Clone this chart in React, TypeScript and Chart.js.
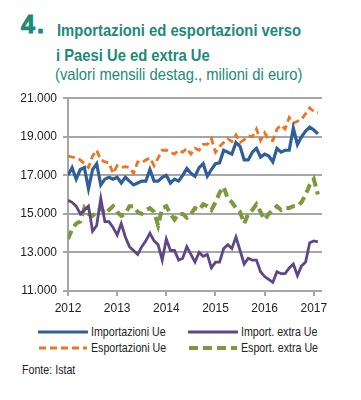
import React, { useEffect, useRef } from "react";
import { Chart, registerables } from "chart.js";

Chart.register(...registerables);

const yearLabels = ["2012", "2013", "2014", "2015", "2016", "2017"];
const yTicks = [11000, 13000, 15000, 17000, 19000, 21000];

const importazioniUe = [
  17000, 17400, 16800, 17300, 17400, 16300, 17300, 17600, 16500, 16800, 16900, 16800,
  16900, 16600, 16900, 16700, 16500, 16600, 16700, 16700, 17300, 16700, 16700, 16900,
  17000, 16600, 16800, 16700, 17000, 17350, 17100, 16950, 17400, 17600, 16950, 17300,
  17600, 17650, 18300, 18200, 18100, 18700, 18500, 17800, 17800, 18200, 18400, 17950,
  18100, 18000, 17700, 18400, 18200, 18300, 18300, 19450, 18600, 19000, 19300, 19500,
  19350, 19150,
];
const esportazioniUe = [
  18000, 17950, 17900, 17800, 17600, 17400, 18000, 18300, 17800, 17700, 17650, 17100,
  17500, 17400, 17450, 17400, 17100, 17700, 17650, 17800, 17900, 17500, 17900, 18300,
  18300, 18200, 18100, 18300, 18200, 18400, 18100, 18400, 18300, 18600, 18600, 18900,
  18200, 18500, 18700, 18900, 18750, 19100, 18700, 18850, 19050, 19000, 19400, 18800,
  19200, 18850, 18800, 19400, 19600, 19400, 20000, 19700, 19800, 19900, 20200, 20500,
  20300, 20250,
];
const importExtraUe = [
  15700, 15600, 15400, 15000, 15200, 15400, 14100, 14400, 15800, 14600, 14600, 14300,
  13900, 14500, 13800, 13300, 13100, 12900, 13300, 13600, 14000, 13600, 13400, 12600,
  13700, 13100, 13100, 12600, 12700, 13300, 12900, 12500, 13000, 12800, 12900, 12200,
  12500, 12500, 13200, 13400, 13200, 13800, 13100, 12400, 12700, 12600, 12600, 12000,
  11750, 11600, 11450, 12000, 11900, 11900, 12200, 12400, 11800, 12300, 12500, 13500,
  13600, 13550,
];
const esportExtraUe = [
  13700, 14200, 14500, 14600, 15300, 15000, 14900, 15100, 15300, 15000, 15200, 15400,
  15100, 14900, 15000, 15400, 15400, 15100, 15000, 15200, 15300, 15100, 14400, 15300,
  15400, 15000, 14700, 15000, 15000, 14800, 15000, 15300, 15200, 15500, 15400, 15200,
  15600, 16100, 16400, 15800, 15600, 15300, 15100, 14500, 15000, 15200, 15500, 15100,
  14700, 15000, 15200, 15400, 15200, 15300, 15300, 15400, 15400, 15600, 16000, 16500,
  16800, 16000,
];

const seriesNames = ["Importazioni Ue", "Esportazioni Ue", "Import. extra Ue", "Esport. extra Ue"];
const colors = ["#2f5f98", "#ef7421", "#5e4789", "#7a9a3b"];
const widths = [3.2, 2.8, 2.8, 4];
const dashes: number[][] = [[], [7, 4], [], [9, 5]];

const FONT = "'Liberation Sans', Arial, sans-serif";
const TEAL = "#1d8a76";

const toPoints = (arr: number[]) => arr.map((v, i) => ({ x: i, y: v }));
const fmt = (v: number) => String(v).replace(/\B(?=(\d{3})+(?!\d))/g, ".");

const narrow = (sx: number): React.CSSProperties => ({
  transform: `scaleX(${sx})`,
  transformOrigin: "0 0",
  whiteSpace: "nowrap",
});

function LegendItem({ idx, left, top }: { idx: number; left: number; top: number }) {
  return (
    <div style={{ position: "absolute", left, top, height: 16, width: 160 }}>
      <svg width={50} height={10} style={{ position: "absolute", left: 0, top: 3 }}>
        <line
          x1={1}
          y1={5}
          x2={49}
          y2={5}
          stroke={colors[idx]}
          strokeWidth={idx === 3 ? 4 : 3.2}
          strokeDasharray={dashes[idx].length ? dashes[idx].join(" ") : undefined}
          strokeLinecap={dashes[idx].length ? "butt" : "round"}
        />
      </svg>
      <div
        style={{
          position: "absolute",
          left: 53,
          top: 0,
          fontFamily: FONT,
          fontSize: 13,
          lineHeight: "16px",
          color: "#222",
          ...narrow(0.82),
        }}
      >
        {seriesNames[idx]}
      </div>
    </div>
  );
}

export default function App() {
  const ref = useRef<HTMLCanvasElement | null>(null);
  useEffect(() => {
    if (!ref.current) return;
    const data = [importazioniUe, esportazioniUe, importExtraUe, esportExtraUe];
    const chart = new Chart(ref.current, {
      type: "line",
      data: {
        datasets: data.map((arr, i) => ({
          label: seriesNames[i],
          data: toPoints(arr),
          borderColor: colors[i],
          borderWidth: widths[i],
          borderDash: dashes[i],
          pointRadius: 0,
          tension: 0,
          fill: false,
        })),
      },
      options: {
        animation: false,
        responsive: false,
        maintainAspectRatio: false,
        layout: { padding: { left: 0, right: 39, top: 13, bottom: 0 } },
        plugins: { legend: { display: false }, tooltip: { enabled: false } },
        scales: {
          x: {
            type: "linear",
            min: 0,
            max: 62,
            afterFit: (s: any) => {
              s.height = 24;
            },
            ticks: {
              stepSize: 12,
              includeBounds: false,
              autoSkip: false,
              maxRotation: 0,
              padding: 5,
              color: "#222",
              font: { family: FONT, size: 12 },
              callback: (v: any) => {
                const n = Number(v);
                return n % 12 === 0 ? yearLabels[n / 12] : "";
              },
            },
            grid: {
              drawOnChartArea: false,
              drawTicks: true,
              tickLength: 5,
              color: "#a6a6a6",
              lineWidth: 2,
            },
            border: { display: false },
          },
          y: {
            min: yTicks[0],
            max: yTicks[yTicks.length - 1],
            afterFit: (s: any) => {
              s.width = 68;
            },
            afterBuildTicks: (s: any) => {
              s.ticks = yTicks.map((v) => ({ value: v }));
            },
            ticks: {
              padding: 6,
              color: "#222",
              font: { family: FONT, size: 12 },
              callback: (v: any) => fmt(Number(v)),
            },
            grid: {
              color: "#a6a6a6",
              lineWidth: 2,
              tickLength: 5,
            },
            border: { display: true, color: "#a6a6a6", width: 2 },
          },
        },
      },
    });
    return () => chart.destroy();
  }, []);

  return (
    <div style={{ position: "absolute", left: 0, top: 0, width: 361, height: 400, background: "#fff", overflow: "hidden" }}>
      <div
        style={{
          position: "absolute",
          left: 21,
          top: 10,
          fontFamily: FONT,
          fontWeight: 900,
          fontSize: 25,
          color: TEAL,
          lineHeight: "28px",
          letterSpacing: 2,
          WebkitTextStroke: `1px ${TEAL}`,
        }}
      >
        4.
      </div>
      <div
        style={{
          position: "absolute",
          left: 57,
          top: 21,
          fontFamily: FONT,
          fontWeight: 700,
          fontSize: 17,
          color: TEAL,
          lineHeight: "20px",
          ...narrow(0.87),
        }}
      >
        Importazioni ed esportazioni verso
      </div>
      <div
        style={{
          position: "absolute",
          left: 56,
          top: 46,
          fontFamily: FONT,
          fontWeight: 700,
          fontSize: 17,
          color: TEAL,
          lineHeight: "20px",
          ...narrow(0.87),
        }}
      >
        i Paesi Ue ed extra Ue
      </div>
      <div
        style={{
          position: "absolute",
          left: 55,
          top: 65,
          fontFamily: FONT,
          fontSize: 17,
          color: TEAL,
          lineHeight: "20px",
          ...narrow(0.87),
        }}
      >
        (valori mensili destag., milioni di euro)
      </div>
      <canvas ref={ref} width={361} height={230} style={{ position: "absolute", left: 0, top: 85, width: 361, height: 230 }} />
      <LegendItem idx={0} left={38} top={324} />
      <LegendItem idx={2} left={188} top={324} />
      <LegendItem idx={1} left={38} top={340} />
      <LegendItem idx={3} left={188} top={340} />
      <div
        style={{
          position: "absolute",
          left: 22,
          top: 362,
          fontFamily: FONT,
          fontSize: 13,
          lineHeight: "16px",
          color: "#222",
          ...narrow(0.82),
        }}
      >
        Fonte: Istat
      </div>
    </div>
  );
}
